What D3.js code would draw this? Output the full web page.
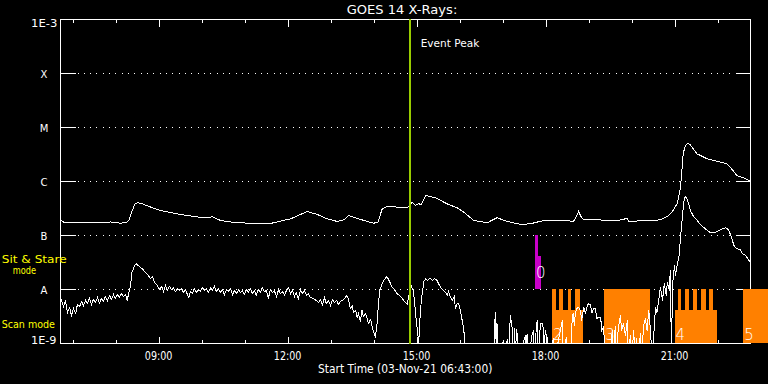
<!DOCTYPE html>
<html><head><meta charset="utf-8">
<script src="https://cdn.jsdelivr.net/npm/d3@7"></script>
<style>html,body{margin:0;padding:0;background:#000;}svg{display:block}</style>
</head><body><svg id="c" width="768" height="384"></svg>
<script>
const chartTitle = "GOES 14 X-Rays:";
const xAxisTitle = "Start Time (03-Nov-21 06:43:00)";
const startHour = 6 + 43 / 60;
const endHour = startHour + 16.05;
const xMajorHours = [9, 12, 15, 18, 21];
const xTickLabels = ["09:00", "12:00", "15:00", "18:00", "21:00"];
const xMinorHours = [7, 8, 10, 11, 13, 14, 16, 17, 19, 20, 22];
const yTickValues = [1e-3, 1e-4, 1e-5, 1e-6, 1e-7, 1e-8, 1e-9];
const yTickLabels = ["1E-3", "X", "M", "C", "B", "A", "1E-9"];
const eventPeakHour = 14.85;
const eventLabel = "Event Peak";

// [hour, flux W/m^2] long channel (1-8 A)
const longChannel = [[6.72,1.95e-7],[6.79,1.76e-7],[7.18,1.74e-7],[7.65,1.72e-7],[7.88,1.78e-7],[8.11,1.69e-7],[8.25,1.74e-7],[8.31,1.90e-7],[8.37,2.67e-7],[8.44,3.75e-7],[8.50,4.04e-7],[8.60,3.91e-7],[8.81,3.37e-7],[9.04,2.90e-7],[9.39,2.55e-7],[9.81,2.25e-7],[10.09,2.11e-7],[10.25,2.22e-7],[10.44,1.90e-7],[10.72,1.76e-7],[10.90,1.72e-7],[11.25,1.67e-7],[11.60,1.67e-7],[12.07,2.04e-7],[12.30,2.45e-7],[12.45,2.78e-7],[12.69,2.45e-7],[12.90,2.07e-7],[13.15,1.82e-7],[13.31,1.95e-7],[13.42,2.35e-7],[13.58,2.13e-7],[13.81,1.86e-7],[14.00,1.69e-7],[14.10,1.76e-7],[14.20,3.12e-7],[14.32,3.44e-7],[14.53,3.37e-7],[14.78,3.26e-7],[14.90,4.14e-7],[14.97,3.59e-7],[15.05,3.86e-7],[15.11,3.75e-7],[15.21,5.50e-7],[15.32,5.27e-7],[15.44,4.99e-7],[15.71,3.86e-7],[15.94,3.26e-7],[16.10,2.70e-7],[16.33,1.90e-7],[16.64,1.72e-7],[16.87,2.13e-7],[17.11,1.82e-7],[17.42,1.60e-7],[17.65,1.65e-7],[17.96,1.90e-7],[18.35,1.90e-7],[18.65,1.84e-7],[18.72,2.25e-7],[18.77,2.82e-7],[18.82,2.25e-7],[18.89,1.95e-7],[19.28,1.94e-7],[19.62,1.86e-7],[19.90,2.07e-7],[19.93,1.84e-7],[20.32,1.87e-7],[20.67,1.95e-7],[20.83,2.25e-7],[20.94,2.70e-7],[21.06,3.86e-7],[21.14,7.83e-7],[21.20,3.26e-6],[21.25,4.64e-6],[21.31,5.12e-6],[21.37,4.74e-6],[21.52,3.26e-6],[21.76,2.63e-6],[21.97,2.40e-6],[22.22,2.13e-6],[22.32,1.74e-6],[22.45,1.29e-6],[22.62,1.16e-6],[22.76,1.01e-6]];

// [hour, flux W/m^2] short channel (0.5-4 A); 5e-10 = below plot floor
const shortChannel = [[6.72,7.11e-9],[6.75,6.0e-9],[6.79,4.84e-9],[6.83,6.25e-9],[6.88,3.75e-9],[6.93,4.64e-9],[6.97,3.30e-9],[7.02,4.45e-9],[7.07,3.59e-9],[7.11,5.28e-9],[7.16,4.84e-9],[7.21,6.0e-9],[7.25,5.05e-9],[7.30,6.25e-9],[7.34,5.5e-9],[7.39,6.81e-9],[7.44,5.28e-9],[7.48,6.53e-9],[7.53,5.74e-9],[7.58,7.11e-9],[7.62,5.5e-9],[7.67,6.81e-9],[7.72,6.0e-9],[7.76,7.42e-9],[7.81,6.25e-9],[7.86,7.74e-9],[7.90,6.53e-9],[7.95,8.08e-9],[7.99,6.81e-9],[8.04,8.08e-9],[8.09,7.11e-9],[8.13,8.43e-9],[8.18,7.42e-9],[8.23,8.08e-9],[8.27,6.25e-9],[8.30,8.43e-9],[8.34,1.10e-8],[8.38,2.09e-8],[8.44,2.78e-8],[8.48,2.99e-8],[8.55,2.67e-8],[8.62,2.42e-8],[8.69,2.06e-8],[8.76,1.82e-8],[8.81,1.60e-8],[8.86,1.74e-8],[8.90,1.35e-8],[8.97,1.19e-8],[9.02,1.0e-8],[9.07,1.14e-8],[9.11,9.18e-9],[9.16,1.19e-8],[9.20,9.58e-9],[9.25,1.14e-8],[9.30,1.0e-8],[9.34,1.09e-8],[9.39,9.18e-9],[9.44,1.04e-8],[9.48,9.58e-9],[9.53,1.04e-8],[9.58,8.80e-9],[9.62,1.0e-8],[9.67,8.08e-9],[9.70,7.11e-9],[9.74,9.18e-9],[9.79,8.43e-9],[9.83,1.04e-8],[9.88,8.80e-9],[9.93,1.0e-8],[9.97,9.18e-9],[10.02,1.09e-8],[10.07,9.58e-9],[10.11,1.04e-8],[10.16,8.80e-9],[10.21,1.09e-8],[10.25,9.58e-9],[10.30,1.14e-8],[10.34,9.18e-9],[10.39,1.04e-8],[10.44,8.80e-9],[10.48,1.0e-8],[10.53,8.08e-9],[10.58,1.0e-8],[10.62,9.18e-9],[10.67,1.04e-8],[10.72,8.08e-9],[10.76,9.58e-9],[10.81,8.43e-9],[10.86,1.0e-8],[10.90,8.80e-9],[10.95,9.58e-9],[10.99,8.08e-9],[11.04,1.0e-8],[11.09,8.80e-9],[11.13,1.04e-8],[11.18,8.43e-9],[11.23,9.58e-9],[11.27,7.74e-9],[11.32,1.0e-8],[11.37,8.80e-9],[11.41,1.09e-8],[11.46,9.18e-9],[11.51,9.58e-9],[11.55,6.81e-9],[11.60,1.0e-8],[11.65,8.80e-9],[11.69,9.58e-9],[11.74,7.42e-9],[11.79,1.0e-8],[11.83,8.43e-9],[11.88,9.18e-9],[11.93,7.74e-9],[11.97,9.58e-9],[12.02,1.09e-8],[12.07,8.43e-9],[12.11,9.58e-9],[12.16,7.42e-9],[12.20,8.80e-9],[12.25,6.81e-9],[12.30,1.0e-8],[12.34,8.43e-9],[12.39,9.58e-9],[12.44,7.74e-9],[12.48,8.43e-9],[12.53,7.11e-9],[12.60,6.81e-9],[12.67,6.25e-9],[12.72,5.74e-9],[12.76,6.53e-9],[12.81,5.28e-9],[12.86,7.11e-9],[12.90,5.5e-9],[12.95,6.25e-9],[13.00,5.05e-9],[13.04,6.53e-9],[13.09,5.74e-9],[13.14,6.25e-9],[13.18,5.28e-9],[13.23,6.0e-9],[13.27,6.25e-9],[13.32,6.81e-9],[13.38,7.74e-9],[13.41,6.81e-9],[13.46,4.45e-9],[13.50,5.05e-9],[13.53,3.75e-9],[13.58,4.08e-9],[13.62,3.03e-9],[13.65,3.59e-9],[13.69,2.56e-9],[13.73,4.08e-9],[13.76,3.16e-9],[13.81,3.59e-9],[13.85,2.90e-9],[13.88,2.35e-9],[13.93,2.78e-9],[13.97,1.98e-9],[14.00,1.67e-9],[14.04,1.29e-9],[14.08,2.35e-9],[14.11,5.05e-9],[14.14,9.58e-9],[14.20,1.28e-8],[14.25,1.53e-8],[14.31,1.74e-8],[14.37,1.41e-8],[14.43,1.10e-8],[14.48,1.0e-8],[14.55,8.32e-9],[14.60,7.74e-9],[14.65,7.11e-9],[14.70,6.25e-9],[14.78,5.43e-9],[14.82,7.74e-9],[14.87,1.19e-8],[14.92,9.58e-9],[14.95,6.25e-9],[14.98,3.30e-9],[15.02,1.74e-9],[15.05,1.04e-9],[15.07,2.35e-9],[15.10,5.05e-9],[15.13,8.43e-9],[15.17,1.41e-8],[15.21,1.58e-8],[15.25,1.47e-8],[15.32,1.62e-8],[15.37,1.47e-8],[15.41,1.60e-8],[15.48,1.47e-8],[15.51,1.28e-8],[15.58,1.04e-8],[15.63,9.58e-9],[15.67,8.80e-9],[15.72,7.74e-9],[15.74,9.18e-9],[15.79,7.11e-9],[15.83,6.25e-9],[15.88,7.42e-9],[15.90,4.45e-9],[15.94,5.43e-9],[15.98,5.5e-9],[16.02,4.08e-9],[16.06,2.67e-9],[16.10,1.74e-9],[16.14,5e-10],[16.79,5e-10],[16.83,3.80e-9],[16.86,5e-10],[16.87,2.35e-9],[16.90,5e-10],[17.02,1.14e-9],[17.04,5e-10],[17.11,1.19e-9],[17.14,5e-10],[17.18,3.30e-9],[17.23,1.74e-9],[17.25,5e-10],[17.28,1.90e-9],[17.30,5e-10],[17.32,1.82e-9],[17.35,1.31e-9],[17.37,5e-10],[17.53,1.41e-9],[17.55,5e-10],[17.57,1.53e-9],[17.60,5e-10],[17.69,1.53e-9],[17.72,1.74e-9],[17.74,5e-10],[17.79,2.35e-9],[17.81,2.67e-9],[17.83,5e-10],[17.88,2.35e-9],[17.92,2.35e-9],[17.95,1.90e-9],[17.97,5e-10],[17.99,1.74e-9],[18.04,1.24e-9],[18.07,5e-10],[18.18,1.24e-9],[18.21,5e-10],[18.39,2.67e-9],[18.41,5e-10],[18.48,1.31e-9],[18.51,5e-10],[18.58,5e-10],[18.62,3.07e-9],[18.64,3.59e-9],[18.67,2.15e-9],[18.69,3.59e-9],[18.73,4.45e-9],[18.77,4.70e-9],[18.81,4.08e-9],[18.84,2.67e-9],[18.89,4.70e-9],[18.93,3.59e-9],[18.97,5.05e-9],[19.00,5.43e-9],[19.04,5.28e-9],[19.08,3.75e-9],[19.12,4.45e-9],[19.16,4.45e-9],[19.19,2.90e-9],[19.24,3.07e-9],[19.28,3.07e-9],[19.31,1.74e-9],[19.35,2.0e-9],[19.39,5e-10],[19.51,5e-10],[19.55,1.74e-9],[19.58,5e-10],[19.62,2.15e-9],[19.65,5e-10],[19.69,1.90e-9],[19.74,3.30e-9],[19.77,1.74e-9],[19.81,2.35e-9],[19.86,1.41e-9],[19.90,2.67e-9],[19.93,5e-10],[19.97,1.41e-9],[20.00,5e-10],[20.05,1.74e-9],[20.08,5e-10],[20.11,1.24e-9],[20.14,5e-10],[20.21,1.53e-9],[20.23,5e-10],[20.28,2.15e-9],[20.32,2.90e-9],[20.36,1.74e-9],[20.40,4.08e-9],[20.44,1.74e-9],[20.48,5e-10],[20.54,2.90e-9],[20.56,4.70e-9],[20.59,3.75e-9],[20.63,6.25e-9],[20.67,1.09e-8],[20.72,6.25e-9],[20.76,1.29e-8],[20.81,7.74e-9],[20.83,1.35e-8],[20.88,9.58e-9],[20.90,2.25e-8],[20.93,5e-10],[20.95,1.19e-8],[21.00,2.78e-8],[21.02,1.82e-8],[21.07,3.16e-8],[21.10,3.91e-8],[21.14,9.18e-8],[21.18,2.15e-7],[21.22,4.45e-7],[21.25,5.27e-7],[21.30,4.64e-7],[21.37,2.90e-7],[21.44,2.25e-7],[21.53,1.90e-7],[21.60,1.60e-7],[21.76,1.24e-7],[21.83,1.14e-7],[21.95,1.15e-7],[22.07,1.29e-7],[22.18,1.39e-7],[22.25,1.29e-7],[22.32,9.58e-8],[22.38,6.53e-8],[22.44,5.74e-8],[22.53,5.43e-8],[22.58,4.64e-8],[22.65,4.26e-8],[22.70,3.75e-8],[22.76,3.20e-8]];

// [start hour, end hour, top level] scan mode blocks
const scanMode = [[18.16,18.88,4.08e-9],[18.16,18.25,1e-8],[18.32,18.41,1e-8],[18.51,18.60,1e-8],[18.69,18.79,1e-8],[19.37,20.42,1e-8],[21.00,21.99,4.08e-9],[21.07,21.16,1e-8],[21.25,21.34,1e-8],[21.44,21.53,1e-8],[21.62,21.72,1e-8],[21.81,21.90,1e-8],[22.60,23.18,1e-8]];
// [start hour, end hour, top level] sit & stare blocks
const sitStare = [[17.76,17.83,1e-7],[17.76,17.90,4.08e-8]];
const sitStareLabels = [["0", 17.78]];
const scanLabels = [["2",18.17],["3",19.39],["4",21.02],["5",22.62]];
const legendLines = [["Sit & Stare",1.7,262.7,65],["mode",12.7,274,23.3],["Scan mode",1.7,327.7,53.3]];

const svg = d3.select("#c");
const W = 768, H = 384;
const L = 60.5, R = 750.5, T = 19.5, B = 343.5;
const x = d3.scaleLinear().domain([startHour, endHour]).range([L, R]);
const y = d3.scaleLog().domain([1e-9, 1e-3]).range([B, T]);
const font = "'DejaVu Sans', sans-serif";

svg.append("rect").attr("width", W).attr("height", H).attr("fill", "#000");

svg.append("defs").append("clipPath").attr("id", "plot")
  .append("rect").attr("x", 60).attr("y", 19).attr("width", 691).attr("height", 324);

// grid lines
const inner = yTickValues.slice(1, -1);
const g = svg.append("g").attr("shape-rendering", "crispEdges");
g.selectAll(".dot").data(inner).join("line")
  .attr("x1", 77.5).attr("x2", 735).attr("y1", d => y(d)).attr("y2", d => y(d))
  .attr("stroke", "#fff").attr("stroke-width", 1).attr("stroke-dasharray", "1,5.33");
g.selectAll(".tl").data(inner).join("line")
  .attr("x1", L).attr("x2", L + 15).attr("y1", d => y(d)).attr("y2", d => y(d)).attr("stroke", "#fff");
g.selectAll(".tr").data(inner).join("line")
  .attr("x1", R - 15).attr("x2", R).attr("y1", d => y(d)).attr("y2", d => y(d)).attr("stroke", "#fff");

// x ticks
[[xMajorHours, 7], [xMinorHours, 3.5]].forEach(([hrs, len]) => {
  g.selectAll(null).data(hrs).join("line")
    .attr("x1", d => Math.round(x(d)) + 0.5).attr("x2", d => Math.round(x(d)) + 0.5)
    .attr("y1", B).attr("y2", B - len).attr("stroke", "#fff");
  g.selectAll(null).data(hrs).join("line")
    .attr("x1", d => Math.round(x(d)) + 0.5).attr("x2", d => Math.round(x(d)) + 0.5)
    .attr("y1", T).attr("y2", T + len).attr("stroke", "#fff");
});

// frame
g.append("rect").attr("x", L).attr("y", T).attr("width", R - L).attr("height", B - T)
  .attr("fill", "none").attr("stroke", "#fff");

// scan mode (orange)
svg.append("g").attr("shape-rendering", "crispEdges").selectAll("rect").data(scanMode).join("rect")
  .attr("x", d => Math.round(x(d[0]))).attr("width", d => Math.round(x(d[1])) - Math.round(x(d[0])))
  .attr("y", d => Math.round(y(d[2]) - 0.5)).attr("height", d => 343 - Math.round(y(d[2]) - 0.5))
  .attr("fill", "#ff8000");
// sit & stare (magenta)
svg.append("g").attr("shape-rendering", "crispEdges").selectAll("rect").data(sitStare).join("rect")
  .attr("x", d => Math.round(x(d[0]))).attr("width", d => Math.round(x(d[1])) - Math.round(x(d[0])))
  .attr("y", d => Math.round(y(d[2]) - 0.5)).attr("height", d => Math.round(y(1e-8) - 0.5) - Math.round(y(d[2]) - 0.5))
  .attr("fill", "#c800c8");

// curves
const line = d3.line().x(d => x(d[0])).y(d => y(d[1]));
const cg = svg.append("g").attr("clip-path", "url(#plot)");
[longChannel, shortChannel].forEach(s => {
  cg.append("path").attr("d", line(s)).attr("fill", "none").attr("stroke", "#fff")
    .attr("stroke-width", 1).attr("shape-rendering", "crispEdges");
});

// mode labels
svg.selectAll(".ml").data(sitStareLabels).join("text")
  .attr("x", d => x(d[1])).attr("y", y(1e-8) - 12)
  .attr("fill", "#fff").attr("font-family", font).attr("font-size", 15).attr("font-weight", 300).text(d => d[0]);
svg.selectAll(".sl").data(scanLabels).join("text")
  .attr("x", d => x(d[1])).attr("y", B - 4)
  .attr("fill", "#fff").attr("font-family", font).attr("font-size", 15).attr("font-weight", 300).text(d => d[0]);

// event peak line
svg.append("line").attr("x1", Math.round(x(eventPeakHour))).attr("x2", Math.round(x(eventPeakHour)))
  .attr("y1", T - 0.5).attr("y2", B + 0.5).attr("stroke", "#99cc00").attr("stroke-width", 2)
  .attr("shape-rendering", "crispEdges");
svg.append("text").attr("x", 420.7).attr("y", 47).attr("fill", "#fff").attr("font-family", font)
  .attr("font-size", 10.5).attr("textLength", 58.6).attr("lengthAdjust", "spacingAndGlyphs").text(eventLabel);

// y labels
yTickValues.forEach((v, i) => {
  const lab = yTickLabels[i];
  const t = svg.append("text").attr("fill", "#fff").attr("font-family", font).attr("font-size", 10).text(lab);
  if (i === 0) t.attr("x", 31).attr("y", 27).attr("textLength", 26.3).attr("lengthAdjust", "spacingAndGlyphs");
  else if (i === yTickValues.length - 1) t.attr("x", 31).attr("y", B).attr("textLength", 25.5).attr("lengthAdjust", "spacingAndGlyphs");
  else t.attr("x", 44).attr("y", y(v) + 4).attr("text-anchor", "middle");
});

// x labels
svg.selectAll(".xl").data(xMajorHours).join("text")
  .attr("x", d => x(d) - 13.85).attr("y", 359.5).attr("fill", "#fff").attr("font-family", font)
  .attr("font-size", 11.5).attr("textLength", 27.7).attr("lengthAdjust", "spacingAndGlyphs")
  .text((d, i) => xTickLabels[i]);

svg.append("text").attr("x", 318).attr("y", 372.7).attr("fill", "#fff").attr("font-family", font)
  .attr("font-size", 11.5).attr("textLength", 174.4).attr("lengthAdjust", "spacingAndGlyphs").text(xAxisTitle);
svg.append("text").attr("x", 346.7).attr("y", 14).attr("fill", "#fff").attr("font-family", font)
  .attr("font-size", 12).attr("textLength", 110.6).attr("lengthAdjust", "spacingAndGlyphs").text(chartTitle);

// legend
legendLines.forEach(([t, lx, ly, w]) => {
  svg.append("text").attr("x", lx).attr("y", ly).attr("fill", "#ffff00").attr("font-family", font)
    .attr("font-size", 10.5).attr("textLength", w).attr("lengthAdjust", "spacingAndGlyphs").text(t);
});
</script></body></html>
